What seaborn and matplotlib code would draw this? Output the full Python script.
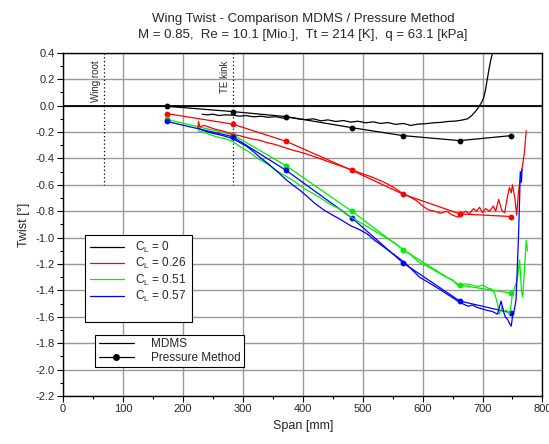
import numpy as np
import pandas as pd
import matplotlib
matplotlib.use("Agg")
import matplotlib.pyplot as plt
import seaborn as sns
from matplotlib.lines import Line2D
from matplotlib.ticker import MultipleLocator

# ---------------- data ----------------
cl_labels = ["0", "0.26", "0.51", "0.57"]
colors = ["#000000", "#ff0000", "#00ee00", "#0000ff"]

# Pressure method (span mm, twist deg)
pm_x = [173, 283, 372, 482, 567, 662, 748]
pm_cl0 = [-0.005, -0.045, -0.083, -0.167, -0.227, -0.265, -0.227]
pm_cl026 = [-0.06, -0.14, -0.27, -0.49, -0.67, -0.82, -0.84]
pm_cl051 = [-0.105, -0.22, -0.455, -0.80, -1.09, -1.36, -1.42]
pm_cl057 = [-0.12, -0.235, -0.49, -0.85, -1.19, -1.48, -1.57]

# MDMS measurements
mdms0_x = [232, 240, 250, 260, 270, 283, 295, 305, 318, 330, 342, 355, 368, 380, 392, 405, 418,
           430, 442, 455, 468, 480, 492, 505, 518, 530, 542, 555, 568, 580, 592, 605, 618, 630,
           642, 655, 665, 675, 682, 688, 693, 698, 702, 705, 708, 711, 714, 718]
mdms0_y = [-0.065, -0.07, -0.065, -0.075, -0.07, -0.072, -0.08, -0.075, -0.085, -0.08, -0.088, -0.084,
           -0.095, -0.09, -0.1, -0.106, -0.1, -0.115, -0.108, -0.12, -0.113, -0.125, -0.118, -0.13,
           -0.123, -0.135, -0.128, -0.142, -0.135, -0.15, -0.14, -0.137, -0.13, -0.127, -0.12, -0.117,
           -0.11, -0.1, -0.075, -0.045, -0.015, 0.02, 0.06, 0.12, 0.2, 0.28, 0.35, 0.42]

mdms026_x = [225, 226, 228, 235, 245, 255, 265, 275, 285, 295, 305, 315, 328, 340, 352, 365, 378,
             390, 402, 415, 428, 440, 452, 465, 478, 490, 502, 515, 528, 540, 552, 565, 578, 590,
             600, 610, 620, 630, 640, 650, 660, 665, 672, 678, 685, 690, 695, 700, 705, 712, 718,
             722, 727, 730, 733, 737, 742, 745, 748, 750, 754, 757, 760, 763, 767, 770, 773]
mdms026_y = [-0.17, -0.12, -0.16, -0.15, -0.165, -0.18, -0.19, -0.205, -0.22, -0.228, -0.24, -0.252,
             -0.262, -0.28, -0.292, -0.31, -0.33, -0.345, -0.36, -0.38, -0.4, -0.42, -0.44, -0.46,
             -0.48, -0.5, -0.52, -0.54, -0.565, -0.59, -0.62, -0.66, -0.69, -0.72, -0.76, -0.79,
             -0.8, -0.815, -0.8, -0.83, -0.845, -0.82, -0.8, -0.82, -0.78, -0.8, -0.77, -0.81,
             -0.78, -0.8, -0.76, -0.8, -0.71, -0.76, -0.8, -0.81, -0.68, -0.62, -0.66, -0.6,
             -0.7, -0.83, -0.66, -0.55, -0.45, -0.35, -0.19]

mdms051_x = [225, 240, 255, 270, 283, 295, 310, 325, 340, 355, 370, 385, 400, 415, 430, 445, 460,
             475, 490, 505, 520, 535, 550, 565, 580, 595, 605, 617, 628, 640, 650, 658, 672, 683,
             692, 700, 708, 715, 720, 725, 728, 733, 736, 740, 745, 748, 750, 753, 758, 762,
             765, 767, 770, 773, 775]
mdms051_y = [-0.19, -0.21, -0.235, -0.25, -0.27, -0.31, -0.35, -0.4, -0.44, -0.49, -0.53, -0.57,
             -0.62, -0.66, -0.7, -0.745, -0.78, -0.83, -0.87, -0.91, -0.95, -0.99, -1.03, -1.08,
             -1.13, -1.19, -1.21, -1.24, -1.27, -1.3, -1.32, -1.36, -1.35, -1.36, -1.37, -1.36,
             -1.38, -1.39, -1.42, -1.5, -1.58, -1.52, -1.56, -1.55, -1.58, -1.5, -1.42, -1.39,
             -1.32, -1.17, -1.4, -1.45, -1.25, -1.02, -1.1]

mdms057_x = [225, 235, 250, 265, 283, 295, 307, 318, 328, 345, 360, 372, 383, 395, 408,
             420, 435, 450, 462, 480, 495, 507, 520, 535, 550, 562, 575, 595, 610, 628, 645, 662,
             676, 683, 692, 707, 717, 725, 731, 735, 738, 742, 745, 748, 750, 753, 756, 758,
             760, 762, 763, 765, 766]
mdms057_y = [-0.17, -0.19, -0.21, -0.225, -0.25, -0.28, -0.31, -0.35, -0.39, -0.45, -0.51, -0.56,
             -0.6, -0.64, -0.69, -0.74, -0.79, -0.83, -0.86, -0.91, -0.94, -0.97, -1.02, -1.07,
             -1.12, -1.16, -1.21, -1.3, -1.34, -1.39, -1.44, -1.49, -1.52, -1.51, -1.53, -1.55,
             -1.56, -1.58, -1.48, -1.56, -1.6, -1.62, -1.65, -1.67, -1.6, -1.55, -1.47, -1.24,
             -1.0, -0.7, -0.5, -0.58, -0.48]

mdms_x = [mdms0_x, mdms026_x, mdms051_x, mdms057_x]
mdms_y = [mdms0_y, mdms026_y, mdms051_y, mdms057_y]
pm_y = [pm_cl0, pm_cl026, pm_cl051, pm_cl057]

wing_root_x = 68
te_kink_x = 283

# ---------------- build frames ----------------
mdms_df = pd.concat([pd.DataFrame({"span": xs, "twist": ys, "CL": lab})
                     for xs, ys, lab in zip(mdms_x, mdms_y, cl_labels)], ignore_index=True)
pm_df = pd.concat([pd.DataFrame({"span": pm_x, "twist": ys, "CL": lab})
                   for ys, lab in zip(pm_y, cl_labels)], ignore_index=True)

# ---------------- plot ----------------
sns.set_theme(style="ticks")
plt.rcParams["font.family"] = ["Liberation Sans", "DejaVu Sans"]
plt.rcParams["mathtext.fontset"] = "custom"
plt.rcParams["mathtext.rm"] = "Liberation Sans"

fig = plt.figure(figsize=(5.49, 4.44), dpi=100)
ax = fig.add_axes([0.115, 0.108, 0.873, 0.773])

palette = dict(zip(cl_labels, colors))
sns.lineplot(data=pm_df, x="span", y="twist", hue="CL", palette=palette, sort=False,
             estimator=None, units="CL", lw=0.9, marker="o", markersize=4.2,
             markeredgewidth=0, legend=False, ax=ax, zorder=3)
sns.lineplot(data=mdms_df, x="span", y="twist", hue="CL", palette=palette, sort=False,
             estimator=None, units="CL", lw=0.9, legend=False, ax=ax, zorder=4)

ax.set_xlim(0, 800)
ax.set_ylim(-2.2, 0.4)
ax.xaxis.set_major_locator(MultipleLocator(100))
ax.xaxis.set_minor_locator(MultipleLocator(50))
ax.yaxis.set_major_locator(MultipleLocator(0.2))
ax.yaxis.set_minor_locator(MultipleLocator(0.1))
ax.yaxis.set_major_formatter(matplotlib.ticker.FormatStrFormatter("%.1f"))
ax.grid(True, which="major", color="#999999", lw=1.0, zorder=0)
ax.axhline(0, color="black", lw=1.3, zorder=2)
ax.tick_params(axis="both", which="major", direction="out", length=4, width=0.8,
               labelsize=8, color="black", pad=2)
ax.tick_params(axis="both", which="minor", direction="out", length=2.5, width=0.8, color="black")
for s in ax.spines.values():
    s.set_color("black")
    s.set_linewidth(1.0)

for xv in (wing_root_x, te_kink_x):
    ax.plot([xv, xv], [0.4, -0.6], color="black", lw=0.9, ls=(0, (1, 2)), zorder=2)
ax.text(wing_root_x - 5, 0.34, "Wing root", rotation=90, ha="right", va="top", fontsize=7)
ax.text(te_kink_x - 5, 0.34, "TE kink", rotation=90, ha="right", va="top", fontsize=7)

ax.set_xlabel("Span [mm]", fontsize=9, labelpad=4)
ax.set_ylabel("Twist [°]", fontsize=9, labelpad=4)
fig.text(0.552, 0.957, "Wing Twist - Comparison MDMS / Pressure Method",
         ha="center", va="center", fontsize=9.5)
fig.text(0.552, 0.922, "M = 0.85,  Re = 10.1 [Mio.],  Tt = 214 [K],  q = 63.1 [kPa]",
         ha="center", va="center", fontsize=9.5)

# legends
h1 = [Line2D([], [], color=c, lw=0.9) for c in colors]
h1.append(Line2D([], [], color="none"))
l1 = [r"C$_{\mathregular{L}}$ = " + lab for lab in cl_labels] + [" "]
leg1 = ax.legend(h1, l1, loc="upper left", bbox_to_anchor=(0.046, 0.47), fontsize=8.5,
                 frameon=True, fancybox=False, edgecolor="black", framealpha=1,
                 handlelength=2.8, labelspacing=0.1, borderpad=0.45, handletextpad=1.0,
                 borderaxespad=0)
leg1.get_frame().set_linewidth(0.8)
ax.add_artist(leg1)
h2 = [Line2D([], [], color="black", lw=0.9),
      Line2D([], [], color="black", lw=0.9, marker="o", markersize=4)]
leg2 = ax.legend(h2, ["MDMS", "Pressure Method"], loc="upper left", bbox_to_anchor=(0.067, 0.178),
                 fontsize=8.5, frameon=True, fancybox=False, edgecolor="black", framealpha=1,
                 handlelength=3.0, labelspacing=0.12, borderpad=0.3, handletextpad=1.4,
                 borderaxespad=0)
leg2.get_frame().set_linewidth(0.8)

fig.savefig("out.png", dpi=100)
